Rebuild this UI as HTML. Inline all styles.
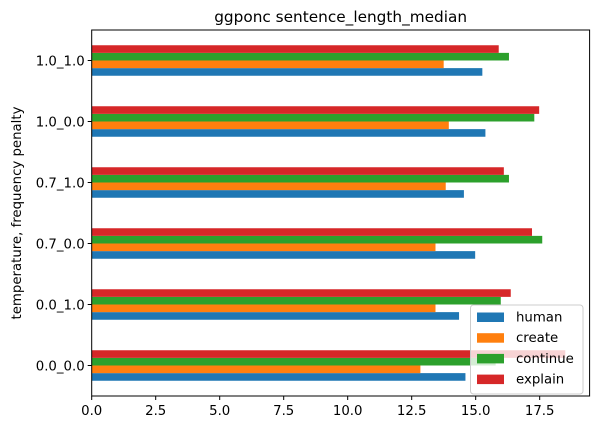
<!DOCTYPE html>
<html><head><meta charset="utf-8"><style>
body{margin:0;background:#fff}
svg{display:block;font-family:"DejaVu Sans","Liberation Sans",sans-serif}
</style></head><body>
<svg id="chart" width="596" height="433" viewBox="0 0 596 433"></svg>
<script>
const categories=["0.0_0.0","0.0_1.0","0.7_0.0","0.7_1.0","1.0_0.0","1.0_1.0"];
const seriesNames=["human","create","continue","explain"];
const human=[14.6,14.35,14.98,14.54,15.38,15.26];
const create=[12.84,13.43,13.43,13.83,13.95,13.75];
const cont=[15.78,15.98,17.6,16.3,17.29,16.3];
const explain=[18.5,16.37,17.2,16.1,17.48,15.9];
const xTicks=[0,2.5,5,7.5,10,12.5,15,17.5];
const xTickLabels=["0.0","2.5","5.0","7.5","10.0","12.5","15.0","17.5"];
const colors=["#1f77b4","#ff7f0e","#2ca02c","#d62728"];
const L=91.7,R=589.6,T=30,B=396,XMAX=19.45;
const sx=v=>L+v/XMAX*(R-L);
const sy=i=>B-(i+0.5)*(B-T)/categories.length;
const NS="http://www.w3.org/2000/svg";
const svg=document.getElementById('chart');
function mk(tag,attrs,parent){const e=document.createElementNS(NS,tag);for(const k in attrs)e.setAttribute(k,attrs[k]);(parent||svg).appendChild(e);return e;}
const series=[human,create,cont,explain];
const step=(B-T)/categories.length, bh=step*0.5/4;
series.forEach((s,j)=>{s.forEach((v,i)=>{
  const r=mk('rect',{x:L,y:sy(i)+step*0.25-(j+1)*bh,width:sx(v)-L,height:bh,fill:colors[j]});
  
  
});});
const frame=mk('rect',{x:L,y:T,width:R-L,height:B-T,fill:'none',stroke:'#000','stroke-width':1});


xTicks.forEach((v,i)=>{
  mk('line',{x1:sx(v),x2:sx(v),y1:B,y2:B+4,stroke:'#000'});
  const t=mk('text',{x:sx(v),y:B+19,'text-anchor':'middle','font-size':13.3});
  t.textContent=xTickLabels[i];
  
  
});
categories.forEach((c,i)=>{
  mk('line',{x1:L-4,x2:L,y1:sy(i),y2:sy(i),stroke:'#000'});
  const t=mk('text',{x:L-7,y:sy(i)+5,'text-anchor':'end','font-size':13.3});
  t.textContent=c;
  
  
});
const title=mk('text',{x:(L+R)/2,y:22,'text-anchor':'middle','font-size':15.3});
title.textContent="ggponc sentence_length_median";


const yl=mk('text',{x:0,y:0,'text-anchor':'middle','font-size':13.3,transform:`translate(21,${(T+B)/2}) rotate(-90)`});
yl.textContent="temperature, frequency penalty";


const lg=mk('g',{});


mk('rect',{x:470.5,y:305,width:112.5,height:89,rx:3,fill:'#fff','fill-opacity':0.8,stroke:'#ccc'},lg);
seriesNames.forEach((n,j)=>{
  const y=316+j*20.7;
  mk('rect',{x:477,y:y-3.5,width:27,height:9.5,fill:colors[j]},lg);
  const t=mk('text',{x:516,y:y+5.5,'font-size':13.3},lg);
  t.textContent=n;
  
  
});
</script>
</body></html>
